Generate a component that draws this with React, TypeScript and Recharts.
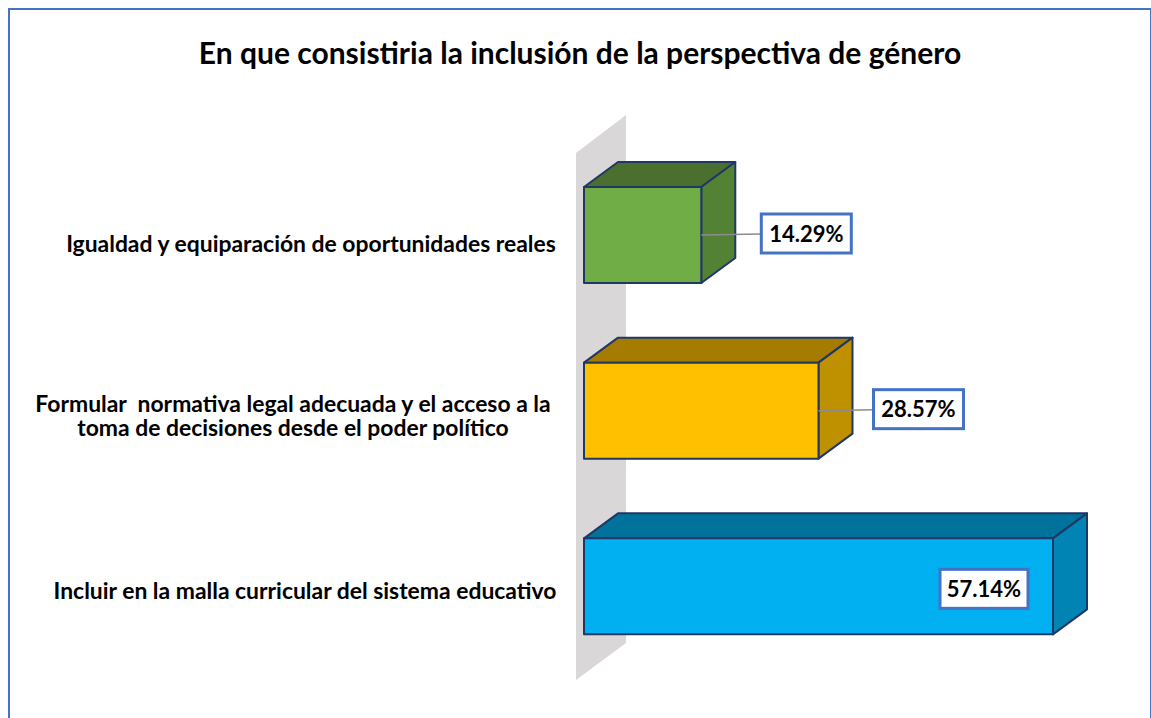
import React from 'react';
import { BarChart, Bar, XAxis, YAxis, Cell, LabelList, ReferenceArea } from 'recharts';

const categories = [
  'Igualdad y equiparación de oportunidades reales',
  'Formular  normativa legal adecuada y el acceso a la toma de decisiones desde el poder político',
  'Incluir en la malla curricular del sistema educativo',
];
const values = [14.29, 28.57, 57.14];
const frontColors = ['#70AD47', '#FFC000', '#00B0F0'];
const topColors = ['#4B6F2F', '#A67C00', '#00729C'];
const sideColors = ['#548235', '#BF9000', '#0084B4'];

// label lines per category, the long one wraps in the original
const tickLines = [
  ['Igualdad y equiparación de oportunidades reales'],
  ['Formular  normativa legal adecuada y el acceso a la', 'toma de decisiones desde el poder político'],
  ['Incluir en la malla curricular del sistema educativo'],
];
const tickCenters = [311, 293, 305];
const tickShift = [17, 1, 13];
const labelLeft = [60, 55, -113];
const labelTop = [-21, -21, -17];

const data = categories.map((name, i) => ({ name, value: values[i], idx: i }));

const FONT = 'Lato, sans-serif';
const DX = 34;
const DY = 25;
const EDGE = '#1F3864';

const Box3D = (props: any) => {
  const { x, y, width, height, index } = props;
  const r = x + width;
  const b = y + height;
  return (
    <g stroke={EDGE} strokeWidth={2} strokeLinejoin="round">
      <polygon
        points={`${x},${y} ${x + DX},${y - DY} ${r + DX},${y - DY} ${r},${y}`}
        fill={topColors[index]}
      />
      <polygon
        points={`${r},${y} ${r + DX},${y - DY} ${r + DX},${b - DY} ${r},${b}`}
        fill={sideColors[index]}
      />
      <rect x={x} y={y} width={width} height={height} fill={frontColors[index]} />
    </g>
  );
};

const Wall = (props: any) => {
  const { x, y, height } = props;
  const b = y + height;
  return (
    <polygon
      points={`${x - 8},${y + 6} ${x + 42},${y - 32} ${x + 42},${b - 31} ${x - 8},${b + 6}`}
      fill="#D9D7D8"
    />
  );
};

const CategoryTick = (props: any) => {
  const { y, index } = props;
  const lines = tickLines[index];
  return (
    <text
      textAnchor="middle"
      fontFamily={FONT}
      fontWeight={700}
      fontSize={22.9}
      fill="#000"
      style={{ whiteSpace: 'pre' }}
    >
      {lines.map((line, i) => (
        <tspan key={i} x={tickCenters[index]} y={y + tickShift[index] + i * 24}>
          {line}
        </tspan>
      ))}
    </text>
  );
};

const ValueLabel = (props: any) => {
  const { x, y, width, height, index, value } = props;
  const r = x + width;
  const cy = y + height / 2;
  const bx = r + labelLeft[index];
  const by = cy + labelTop[index];
  const w = index === 2 ? 88 : 90;
  const h = 39;
  return (
    <g>
      {labelLeft[index] > 0 && <line x1={r} y1={cy} x2={bx} y2={cy - 1} stroke="#8C8C8C" strokeWidth={1.5} />}
      <rect x={bx} y={by} width={w} height={h} fill="#fff" stroke="#4472C4" strokeWidth={3} />
      <text
        x={bx + w / 2}
        y={by + h / 2 + 8}
        textAnchor="middle"
        fontFamily={FONT}
        fontWeight={700}
        fontSize={22}
        fill="#000"
      >
        {value.toFixed(2)}%
      </text>
    </g>
  );
};

export default function App() {
  return (
    <div style={{ position: 'absolute', left: 0, top: 0, width: 1151, height: 718, overflow: 'hidden', background: '#fff' }}>
      <div
        style={{
          position: 'absolute',
          left: 8,
          top: 8,
          width: 1140,
          height: 760,
          border: '2px solid #4472C4',
        }}
      />
      <div
        style={{
          position: 'absolute',
          left: 0,
          top: 32,
          width: 1160,
          textAlign: 'center',
          fontFamily: FONT,
          fontWeight: 700,
          fontSize: 30,
          lineHeight: '40px',
          color: '#000',
        }}
      >
        En que consistiria la inclusión de la perspectiva de género
      </div>
      <BarChart
        layout="vertical"
        width={1151}
        height={718}
        data={data}
        margin={{ top: 147, right: 98, bottom: 44, left: 0 }}
        barCategoryGap={0}
        style={{ position: 'absolute', left: 0, top: 0 }}
      >
        <XAxis type="number" hide domain={[0, 57.14]} />
        <YAxis type="category" dataKey="name" width={584} axisLine={false} tickLine={false} interval={0} tick={<CategoryTick />} />
        <ReferenceArea x1={0} x2={57.14} shape={<Wall />} ifOverflow="visible" />
        <Bar dataKey="value" barSize={96} shape={<Box3D />} isAnimationActive={false}>
          {data.map((d) => (
            <Cell key={d.idx} fill={frontColors[d.idx]} />
          ))}
          <LabelList dataKey="value" content={<ValueLabel />} />
        </Bar>
      </BarChart>
    </div>
  );
}
